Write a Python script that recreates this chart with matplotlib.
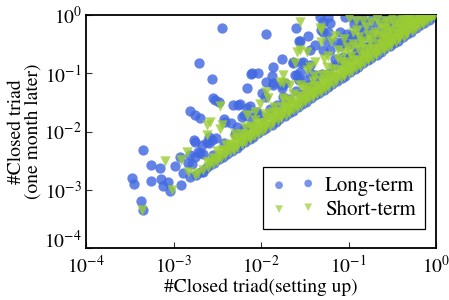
import numpy as np
import matplotlib
matplotlib.use("Agg")
import matplotlib.pyplot as plt
from matplotlib.ticker import NullLocator, FixedLocator

plt.rcParams['font.family'] = ['STIXGeneral', 'DejaVu Serif']
plt.rcParams['mathtext.fontset'] = 'stix'

# ---- data (log10 values) ----
# points lying on y = x
long_diag = [-2.74, -2.69, -2.63, -2.58, -2.54, -2.48, -2.43, -2.39, -2.33, -2.28,
             -2.24, -2.18, -2.13, -2.09, -2.03, -1.98, -1.94, -1.88, -1.83, -1.79,
             -1.73, -1.68, -1.64, -1.58, -1.53, -1.49, -1.43, -1.38, -1.34, -1.28,
             -1.23, -1.19, -1.13, -1.08, -1.04, -0.98, -0.93, -0.89, -0.83, -0.78,
             -0.74, -0.68, -0.63, -0.59, -0.53, -0.48, -0.44, -0.38, -0.33, -0.29,
             -0.23, -0.18, -0.14, -0.08, -0.03]
short_diag = [-2.72, -2.66, -2.61, -2.55, -2.50, -2.46, -2.41, -2.36, -2.31, -2.27,
              -2.22, -2.18, -2.13, -2.08, -2.04, -1.99, -1.95, -1.90, -1.86, -1.81,
              -1.77, -1.72, -1.68, -1.63, -1.59, -1.54, -1.50, -1.45, -1.41, -1.36,
              -1.32, -1.27, -1.23, -1.18, -1.14, -1.09, -1.05, -1.00, -0.96, -0.91,
              -0.87, -0.82, -0.78, -0.73, -0.69, -0.64, -0.60, -0.55, -0.51, -0.46,
              -0.42, -0.37, -0.33, -0.28, -0.24, -0.19, -0.15, -0.10, -0.06, -0.02]

# Long-term: points above the diagonal
long_x = [-2.55, -2.42, -2.30, -2.20, -2.12, -2.05, -1.98, -1.90, -1.82, -1.75,
          -1.68, -1.60, -1.52, -1.45, -1.38, -1.30, -1.22, -1.15, -1.06, -0.98,
          -0.90, -0.82, -0.74, -0.66, -0.58, -0.50, -0.42, -0.34, -0.26, -0.18,
          -3.35, -3.26, -3.16, -3.48, -3.45, -3.26, -3.14, -3.06, -3.12, -3.04,
          -2.91, -2.98, -3.37, -3.35, -2.93, -2.81, -2.83, -2.79, -2.81, -2.89,
          -2.72, -2.66, -2.66, -2.75, -2.68, -2.60, -2.70, -2.75,
          -2.81, -2.75, -2.70, -2.77, -2.62, -2.60, -2.56, -2.51,
          -2.45, -2.71, -2.56, -2.55, -2.48, -2.42, -2.53,
          -2.34, -2.28, -2.41,
          -2.32, -2.24, -2.16, -2.22, -2.26, -2.20, -2.13, -2.13, -2.05,
          -2.16, -2.10, -2.04, -2.11, -1.94, -1.60, -1.57, -1.76, -1.64, -1.86,
          -1.88, -1.94, -1.59, -1.57, -1.86, -1.76, -1.99, -1.95, -1.63, -1.54, -1.44,
          -1.46, -1.55, -1.33, -1.24, -1.29, -1.23, -1.38, -1.29, -1.21, -1.31,
          -1.10, -1.02, -1.08, -0.98, -1.21, -1.10, -1.29, -1.44,
          -1.04, -0.96, -0.85, -0.72, -0.64, -0.53, -0.45, -0.37, -0.30, -0.79,
          -1.02, -0.96, -0.91, -0.85, -1.14, -1.06, -0.91,
          -1.52, -1.55, -1.61, -1.44, -1.50,
          -1.86, -1.76, -1.73, -1.38,
          -0.75, -0.70, -0.62, -0.55, -0.48, -0.40, -0.78, -0.66, -0.58, -0.88, -0.94, -0.82,
          -0.88, -0.60, -0.50, -0.42, -0.70, -0.60, -0.72, -0.85, -1.25, -1.15]
long_y = [-2.40, -2.20, -2.05, -1.95, -1.90, -1.70, -1.75, -1.62, -1.55, -1.40,
          -1.45, -1.30, -1.35, -1.20, -1.15, -1.02, -1.00, -0.85, -0.80, -0.72,
          -0.62, -0.55, -0.48, -0.42, -0.33, -0.28, -0.20, -0.12, -0.08, -0.04,
          -2.32, -2.58, -2.63, -2.79, -2.90, -2.85, -2.82, -2.87, -2.93, -3.03,
          -2.91, -2.59, -3.19, -3.35, -2.43, -2.40, -2.54, -2.56, -2.78, -2.72,
          -2.35, -2.38, -2.69, -2.18, -2.23, -2.20, -2.37, -2.43,
          -1.65, -1.72, -1.77, -2.15, -2.18, -2.09, -2.15, -2.12,
          -0.23, -0.83, -1.10, -1.42, -1.49, -1.79, -1.46,
          -1.86, -1.92, -1.83,
          -1.55, -1.53, -1.60, -1.75, -1.55, -1.72, -1.75, -1.57, -1.66,
          -1.26, -1.00, -0.99, -1.01, -0.33, -0.23, -0.44, -0.76, -0.83, -0.90,
          -1.05, -1.15, -1.03, -1.12, -1.20, -1.26, -1.34, -1.40, -0.80, -0.83, -0.86,
          -0.36, -0.45, -0.03, -0.03, -0.29, -0.29, -0.52, -0.12, -0.14, -0.26,
          -0.29, -0.32, -0.46, -0.49, -0.60, -0.54, -0.60, -0.60,
          -0.03, -0.03, -0.05, -0.03, -0.03, -0.03, -0.03, -0.04, -0.04, -0.12,
          -0.43, -0.34, -0.43, -0.37, -0.46, -0.72, -0.66,
          -0.80, -0.97, -1.03, -1.00, -1.12,
          -1.17, -1.20, -1.16, -1.03,
          -0.25, -0.40, -0.30, -0.20, -0.35, -0.15, -0.55, -0.50, -0.45, -0.20, -0.15, -0.30,
          -0.10, -0.10, -0.12, -0.10, -0.18, -0.38, -0.60, -0.70, -0.45, -0.75]

# Short-term: points above the diagonal
short_x = [-2.62, -2.55, -2.48, -2.41, -2.35, -2.28, -2.21, -2.15, -2.08, -2.01,
           -1.95, -1.88, -1.81, -1.75, -1.68, -1.61, -1.55, -1.48, -1.41, -1.35,
           -1.28, -1.21, -1.15, -1.08, -1.01, -0.95, -0.88, -0.81, -0.75, -0.68,
           -0.61, -0.55, -0.48, -0.41, -0.35, -0.28, -0.21, -0.15, -0.08,
           -2.58, -2.49, -2.40, -2.31, -2.22, -2.13, -2.04, -1.95, -1.86, -1.77,
           -1.68, -1.59, -1.50, -1.41, -1.32, -1.23, -1.14, -1.05, -0.96, -0.87,
           -0.78, -0.69, -0.60, -0.51, -0.42, -0.33, -0.24, -0.15, -0.06,
           -2.45, -2.35, -2.26, -2.17, -2.07, -1.98, -1.89, -1.80, -1.71, -1.62,
           -1.53, -1.44, -1.35, -1.26, -1.17, -1.08, -0.99, -0.90, -0.81, -0.72,
           -0.63, -0.54, -0.45, -0.36, -0.27, -0.18,
           -2.50, -2.40, -2.31, -2.22, -2.12, -2.03, -1.94, -1.85, -1.76, -1.67,
           -1.58, -1.49, -1.40, -1.31, -1.22, -1.13, -1.04, -0.95, -0.86, -0.77,
           -0.68, -0.59, -0.50, -0.41, -0.32, -0.23, -0.14,
           -2.12, -1.90, -1.68, -1.46, -1.25, -1.03, -0.81, -0.59, -0.37,
           -2.30, -2.18, -2.07, -1.96, -1.85, -1.74, -1.63, -1.52, -1.41, -1.30,
           -1.19, -1.08, -0.97, -0.86, -0.75, -0.64, -0.53, -0.42, -0.31, -0.20,
           -1.55, -1.40, -1.25, -1.12, -0.98, -0.85, -0.70, -0.58, -0.45, -0.33,
           -3.36, -3.10, -3.02, -2.91, -2.85, -2.83, -2.75, -2.62, -2.62, -2.58,
           -2.47, -2.47, -2.45, -2.16, -2.07, -2.01, -1.94, -1.92, -1.78, -1.75,
           -1.75, -1.75, -1.67, -1.61, -1.59, -1.55, -1.55, -1.48, -1.48, -1.44,
           -1.33, -1.31, -1.31, -1.23, -1.15, -1.12, -1.05, -1.02, -1.00, -0.95,
           -0.92, -0.90, -0.85, -0.84, -0.80, -0.78, -0.74, -0.70, -0.68, -0.62,
           -0.58, -0.55, -0.50, -0.48, -0.40, -0.40, -0.35, -0.30, -0.26, -0.20,
           -0.15, -0.10, -1.28, -1.38,
           -0.95, -0.88, -0.75, -0.65, -0.55, -0.45, -0.35, -0.25, -1.20, -1.05,
           -0.90, -0.62, -0.52]
short_y = [-2.53, -2.46, -2.40, -2.32, -2.25, -2.19, -2.12, -2.06, -1.99, -1.91,
           -1.86, -1.79, -1.72, -1.66, -1.58, -1.52, -1.46, -1.39, -1.32, -1.26,
           -1.19, -1.11, -1.06, -0.99, -0.92, -0.86, -0.79, -0.72, -0.66, -0.58,
           -0.52, -0.46, -0.39, -0.32, -0.26, -0.19, -0.12, -0.06, -0.01,
           -2.53, -2.45, -2.35, -2.27, -2.17, -2.09, -1.99, -1.91, -1.81, -1.73,
           -1.63, -1.55, -1.45, -1.37, -1.27, -1.19, -1.09, -1.01, -0.91, -0.83,
           -0.73, -0.65, -0.55, -0.47, -0.37, -0.29, -0.19, -0.11, -0.02,
           -2.32, -2.22, -2.12, -2.04, -1.94, -1.85, -1.76, -1.66, -1.58, -1.49,
           -1.40, -1.31, -1.22, -1.13, -1.04, -0.95, -0.86, -0.77, -0.68, -0.59,
           -0.50, -0.41, -0.32, -0.23, -0.14, -0.05,
           -2.33, -2.23, -2.13, -2.04, -1.95, -1.85, -1.76, -1.67, -1.58, -1.49,
           -1.39, -1.31, -1.22, -1.12, -1.04, -0.95, -0.85, -0.77, -0.68, -0.58,
           -0.50, -0.40, -0.32, -0.23, -0.13, -0.05, -0.02,
           -1.90, -1.68, -1.46, -1.24, -1.03, -0.81, -0.59, -0.37, -0.15,
           -2.05, -1.92, -1.81, -1.70, -1.58, -1.47, -1.36, -1.25, -1.14, -1.03,
           -0.92, -0.80, -0.70, -0.59, -0.48, -0.37, -0.26, -0.15, -0.05, -0.03,
           -1.20, -1.05, -0.90, -0.76, -0.62, -0.49, -0.34, -0.22, -0.10, -0.04,
           -3.35, -2.50, -3.00, -2.49, -2.35, -2.69, -2.75, -1.89, -2.06, -1.83,
           -1.56, -1.95, -1.89, -1.72, -1.66, -1.52, -1.32, -1.43, -1.15, -1.03,
           -1.17, -1.43, -1.20, -0.83, -0.63, -0.12, -0.60, -0.63, -0.94, -0.89,
           -0.23, -0.46, -0.26, -0.70, -0.36, -0.60, -0.41, -0.55, -0.06, -0.50,
           -0.11, -0.26, -0.45, -0.10, -0.20, -0.35, -0.12, -0.30, -0.07, -0.22,
           -0.10, -0.30, -0.05, -0.18, -0.25, -0.06, -0.15, -0.05, -0.15, -0.05,
           -0.12, -0.04, -0.75, -0.80,
           -0.30, -0.38, -0.42, -0.15, -0.12, -0.22, -0.08, -0.10, -0.45, -0.65,
           -0.55, -0.35, -0.40]

x_ticks = [1e-4, 1e-3, 1e-2, 1e-1, 1e0]
x_tick_labels = [r'$10^{-4}$', r'$10^{-3}$', r'$10^{-2}$', r'$10^{-1}$', r'$10^{0}$']
y_ticks = [1e-4, 1e-3, 1e-2, 1e-1, 1e0]
y_tick_labels = [r'$10^{-4}$', r'$10^{-3}$', r'$10^{-2}$', r'$10^{-1}$', r'$10^{0}$']

series_names = ['Long-term', 'Short-term']

# ---- plot ----
fig = plt.figure(figsize=(4.49, 3.0), dpi=100)
ax = fig.add_axes([86 / 449, (300 - 248) / 300, 350 / 449, 233 / 300])

blue = '#4169E1'
green = '#9ACD32'
msize = 55

lx = 10 ** np.concatenate([long_diag, long_x])
ly = 10 ** np.concatenate([long_diag, long_y])
sx = 10 ** np.concatenate([short_diag, short_x])
sy = 10 ** np.concatenate([short_diag, short_y])

ax.scatter(lx, ly, s=msize, marker='o', color=blue, alpha=0.82,
           linewidths=0, label=series_names[0], zorder=2)
ax.scatter(sx, sy, s=msize, marker='v', color=green, alpha=0.8,
           linewidths=0, label=series_names[1], zorder=3)

ax.set_xscale('log')
ax.set_yscale('log')
ax.set_xlim(1e-4, 1e0)
ax.set_ylim(1e-4, 1e0)
ax.xaxis.set_major_locator(FixedLocator(x_ticks))
ax.yaxis.set_major_locator(FixedLocator(y_ticks))
ax.set_xticklabels(x_tick_labels)
ax.set_yticklabels(y_tick_labels)
ax.xaxis.set_minor_locator(NullLocator())
ax.yaxis.set_minor_locator(NullLocator())
ax.tick_params(axis='both', which='major', direction='in', length=4, width=0.8,
               labelsize=14, top=False, right=False, colors='#333333',
               labelcolor='black')
ax.tick_params(axis='x', pad=5)
ax.tick_params(axis='y', pad=3)
# nudge the bottom y label up a little so it clears the first x label
ax.get_yticklabels()[0].set_verticalalignment('baseline')

for sp in ax.spines.values():
    sp.set_linewidth(1.3)
    sp.set_color('black')

ax.set_xlabel('#Closed triad(setting up)', fontsize=14)
ax.set_ylabel('#Closed triad\n(one month later)', fontsize=14, linespacing=0.95)
ax.xaxis.set_label_coords(0.5, -0.13)
ax.yaxis.set_label_coords(-0.128, 0.5)

leg = ax.legend(loc='lower right', bbox_to_anchor=((425 - 86) / 350, (248 - 229) / 233),
                scatterpoints=2, fontsize=15, frameon=True, fancybox=False,
                framealpha=1, edgecolor='black', markerscale=0.75,
                borderaxespad=0, handletextpad=0.5, borderpad=0.45, labelspacing=0.2)
leg.get_frame().set_linewidth(0.9)
for h in leg.legend_handles:
    h.set_alpha(0.7)

fig.savefig('out.png', dpi=100)
